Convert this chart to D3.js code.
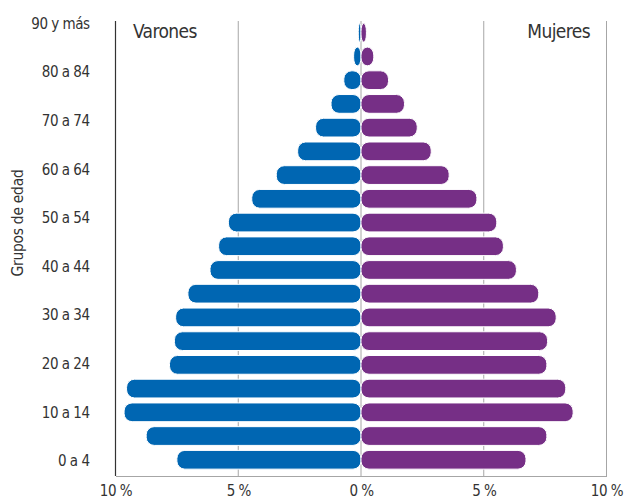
<!DOCTYPE html>
<html>
<head>
<meta charset="utf-8">
<script src="https://cdn.jsdelivr.net/npm/d3@7"></script>
<style>
  body { margin: 0; background: #fff; }
  text { font-family: "DejaVu Sans Condensed", "DejaVu Sans", sans-serif; fill: #333; }
</style>
</head>
<body>
<div id="chart"></div>
<script>
// Altersgruppen von jung nach alt
const groups = ["0 a 4", "5 a 9", "10 a 14", "15 a 19", "20 a 24", "25 a 29", "30 a 34",
  "35 a 39", "40 a 44", "45 a 49", "50 a 54", "55 a 59", "60 a 64", "65 a 69",
  "70 a 74", "75 a 79", "80 a 84", "85 a 89", "90 y más"];
const varones = [7.5, 8.75, 9.65, 9.55, 7.8, 7.6, 7.55, 7.05, 6.15, 5.8, 5.4, 4.45, 3.45,
  2.58, 1.85, 1.22, 0.7, 0.3, 0.11];
const mujeres = [6.72, 7.57, 8.64, 8.34, 7.57, 7.6, 7.95, 7.24, 6.33, 5.8, 5.53, 4.72, 3.59,
  2.86, 2.29, 1.77, 1.12, 0.52, 0.22];
const shownLabels = ["0 a 4", "10 a 14", "20 a 24", "30 a 34", "40 a 44", "50 a 54",
  "60 a 64", "70 a 74", "80 a 84", "90 y más"];
const xTicks = [-10, -5, 0, 5, 10];

const svg = d3.select("#chart").append("svg")
    .attr("width", 630)
    .attr("height", 500);

const x = d3.scaleLinear().domain([-10, 10]).range([115.5, 606.5]);
const y = d3.scaleBand().domain(groups).range([471.5, 21]).paddingInner(0.21).paddingOuter(0.1);
const yLab = d3.scalePoint().domain(shownLabels).range([461, 23.5]);

const plotTop = 21, plotBottom = 476;

// Gitterlinien
svg.append("g").selectAll("line")
    .data([-5, 0, 5, 10])
    .join("line")
    .attr("x1", d => x(d)).attr("x2", d => x(d))
    .attr("y1", plotTop).attr("y2", plotBottom)
    .attr("stroke", "#a6a6a6")
    .attr("stroke-width", 1);

// x-Achse
const xAxis = svg.append("g")
    .attr("transform", "translate(0," + plotBottom + ")")
    .call(d3.axisBottom(x).tickValues(xTicks).tickSize(0).tickPadding(9)
      .tickFormat(d => Math.abs(d) + " %"));
xAxis.select(".domain").attr("stroke", "#a6a6a6");
xAxis.selectAll("text").style("font-size", "15px").style("letter-spacing", "-0.5px").attr("fill", "#333");

// y-Achse
const yAxis = svg.append("g")
    .attr("transform", "translate(" + x(-10) + ",0)")
    .call(d3.axisLeft(yLab).tickSize(0).tickPadding(26));
yAxis.select(".domain").remove();
yAxis.selectAll("text").style("font-size", "15px").style("letter-spacing", "-0.5px").attr("fill", "#333");

svg.append("line")
    .attr("x1", x(-10)).attr("x2", x(-10))
    .attr("y1", plotTop).attr("y2", plotBottom)
    .attr("stroke", "#333").attr("stroke-width", 1.2);

// Balken
const bars = svg.append("g");
bars.selectAll("rect.v")
    .data(groups)
    .join("rect")
    .attr("class", "v")
    .attr("x", (d, i) => x(-varones[i]))
    .attr("y", d => y(d))
    .attr("width", (d, i) => x(0) - x(-varones[i]))
    .attr("height", y.bandwidth())
    .attr("rx", 8)
    .attr("fill", "#0066b2")
    .attr("stroke", "#fff")
    .attr("stroke-width", 1);

bars.selectAll("rect.m")
    .data(groups)
    .join("rect")
    .attr("class", "m")
    .attr("x", x(0))
    .attr("y", d => y(d))
    .attr("width", (d, i) => x(mujeres[i]) - x(0))
    .attr("height", y.bandwidth())
    .attr("rx", 8)
    .attr("fill", "#762f86")
    .attr("stroke", "#fff")
    .attr("stroke-width", 1);

// Beschriftungen
svg.append("text")
    .attr("x", 133).attr("y", 38)
    .style("font-size", "19px")
    .style("letter-spacing", "-0.6px")
    .text("Varones");
svg.append("text")
    .attr("x", 590).attr("y", 38)
    .attr("text-anchor", "end")
    .style("font-size", "19px")
    .style("letter-spacing", "-0.6px")
    .text("Mujeres");
svg.append("text")
    .attr("transform", "translate(23,223) rotate(-90)")
    .attr("text-anchor", "middle")
    .style("font-size", "15.5px")
    .style("letter-spacing", "-0.3px")
    .text("Grupos de edad");
</script>
</body>
</html>
